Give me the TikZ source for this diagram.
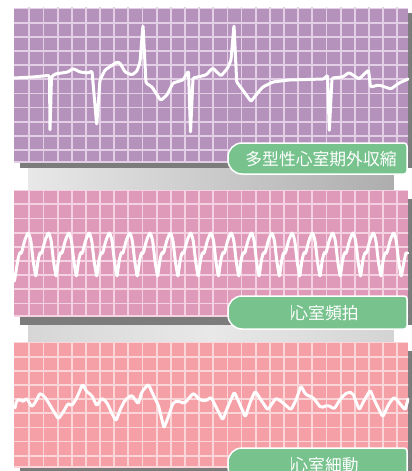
\documentclass[tikz,border=0pt]{standalone}
\usepackage{fontspec}
\newfontfamily\cjk{Noto Sans CJK JP}
\definecolor{purpA}{HTML}{B592BC}
\definecolor{purpL}{HTML}{E2CFE6}
\definecolor{pnkA}{HTML}{DF9AB9}
\definecolor{pnkL}{HTML}{F4D2E1}
\definecolor{salA}{HTML}{F5A0A6}
\definecolor{salL}{HTML}{FBD6D8}
\definecolor{tabG}{HTML}{77C28D}
\definecolor{shdG}{HTML}{7C7C7C}
\tikzset{
  ecg/.style={draw=white, line width=3pt, line join=round, line cap=round},
  gridline/.style={line width=1.8pt},
  tabbox/.style={draw=white, line width=1.5pt, fill=tabG},
  tabtext/.style={text=white, font=\cjk\fontsize{16.8}{17}\selectfont, inner sep=0pt},
  shadowbox/.style={fill=shdG},
}
\newcommand\mytab[2]{% #1 top y, #2 height
  \path[tabbox] (242,#1) -- (404,#1) arc[start angle=-90,end angle=0,radius=3]
    -- ++(0,#2-6) arc[start angle=0,end angle=90,radius=3]
    -- (242,#1+#2) arc[start angle=90,end angle=180,radius=14]
    -- ++(0,-#2+28) arc[start angle=180,end angle=270,radius=14] -- cycle;}
\newcommand\mypanel[5]{% #1 fill, #2 line colour, #3 top, #4 bottom, #5 first h-line
  \begin{scope}
    \clip (14,#3) rectangle (408,#4);
    \fill[#1] (14,#3) rectangle (408,#4);
    \foreach \i in {1,...,27} \draw[gridline,#2] ({15.15+14.15*\i},#3-2) -- ({15.15+14.15*\i},#4+2);
    \foreach \j in {0,...,11} \draw[gridline,#2] (10,{#5+14.15*\j}) -- (412,{#5+14.15*\j});
    \draw[gridline,#2] (10,#4) -- (412,#4);
  \end{scope}}
\begin{document}
\begin{tikzpicture}[x=1pt,y=-1pt]
\useasboundingbox (0,0) rectangle (412,471);
\clip (0,0) rectangle (412,471);
\fill[white] (0,0) rectangle (412,471);
% bands between panels
\shade[left color=black!9, right color=black!32] (28,168) rectangle (393.5,190);
\shade[left color=black!16, right color=black!17, middle color=black!9] (28,325) rectangle (393.5,342);
% drop shadows
\fill[shadowbox] (20,13) rectangle (414,168);
\fill[shadowbox] (20,199) rectangle (414,325);
\fill[shadowbox] (20,351) rectangle (414,476);
% panels
\mypanel{purpA}{purpL}{7.5}{162}{8.5}
\mypanel{pnkA}{pnkL}{190}{316}{190.2}
\mypanel{salA}{salL}{342}{467}{342.5}
% trace 1
\draw[ecg, rounded corners=1.2pt] (14,78) -- (33,77) -- (48,75.5) -- (49.5,76) -- (50,131) -- (51.5,77) -- (55,74) -- (68,72) -- (73,68.5) -- (80,72) -- (88,73) -- (92,71) -- (96.7,125) -- (100,80) -- (105,70) -- (117,62) -- (120,63) -- (125,72) -- (132,75) -- (137,71) -- (140,62) -- (143,25) -- (146,83) -- (152,87) -- (160.7,100.5) -- (167,95) -- (173,83) -- (183,80) -- (188.5,71) -- (190.5,133) -- (193,78) -- (206,75) -- (212.7,68) -- (221,76) -- (227.7,68) -- (231,60) -- (234,25) -- (236.7,82) -- (242.7,90) -- (251,101.5) -- (256,95) -- (262.7,87) -- (272.7,82) -- (289,80) -- (324,79) -- (327.5,75) -- (329.3,131.5) -- (332,78) -- (342.7,77) -- (349,72.5) -- (359,79) -- (368.5,70) -- (370.5,87) -- (379,85) -- (391,89) -- (399,83) -- (408,79);
% trace 2
\draw[ecg, rounded corners=2pt] (14.5,281)
  \foreach \k in {0,...,18} {
    -- ({28.3+20.3*\k-10.5},260) -- ({28.3+20.3*\k-8.5},252) -- ({28.3+20.3*\k-7},254)
    -- ({28.3+20.3*\k-3.5},240) -- ({28.3+20.3*\k},232) -- ({28.3+20.3*\k+2.5},240)
    -- ({28.3+20.3*\k+5},262) -- ({28.3+20.3*\k+7.5},277) }
  -- (404,262) -- (406,252) -- (407.5,253);
% trace 3
\draw[ecg, rounded corners=2pt] (15,408) -- (16.7,400) -- (20,399) -- (23,402) -- (26.7,398) -- (31.7,407) -- (35,403) -- (40,393) -- (45,397) -- (51.7,408) -- (58.3,419) -- (63.3,412) -- (68.3,403) -- (71.7,406) -- (76.7,398) -- (82.7,384) -- (86.7,392) -- (91.7,395) -- (96.7,406) -- (101.7,398) -- (106.7,402) -- (111.7,413) -- (116,421) -- (120,410) -- (125,400) -- (131.7,395) -- (138.3,404) -- (141.7,392) -- (148.3,384) -- (153.3,395) -- (158.3,405) -- (164,428) -- (168.3,417) -- (173.3,402) -- (180,401) -- (184,404) -- (193.3,393) -- (200,400) -- (206,401) -- (211,397) -- (216,407) -- (222.7,420) -- (227.7,407) -- (234.3,392) -- (239.3,403) -- (245.3,417) -- (251,400) -- (255.3,391) -- (261,400) -- (267.7,410) -- (276,398) -- (282,402) -- (291,410) -- (296,400) -- (301,386) -- (306,395) -- (312.7,397) -- (321,408) -- (327.7,405) -- (334.3,409) -- (341,398) -- (347.7,392) -- (352.7,393) -- (359.3,410) -- (364.3,400) -- (370.3,390) -- (374.3,400) -- (382.7,417) -- (389.3,403) -- (394.3,397) -- (401,405) -- (405.3,410) -- (408,399);
% tabs
\mytab{143}{31}
\node[tabtext] (t1) at (321,159.5) {多型性心室期外収縮};
\mytab{296}{33}
\draw[white!75!tabG, line width=0.5pt] (291,305) -- (291,320);
\node[tabtext] (t2) at (325,313) {心室頻拍};
\mytab{448}{33}
\draw[white!75!tabG, line width=0.5pt] (291,457) -- (291,472);
\node[tabtext] (t3) at (325,465) {心室細動};
\end{tikzpicture}
\end{document}
